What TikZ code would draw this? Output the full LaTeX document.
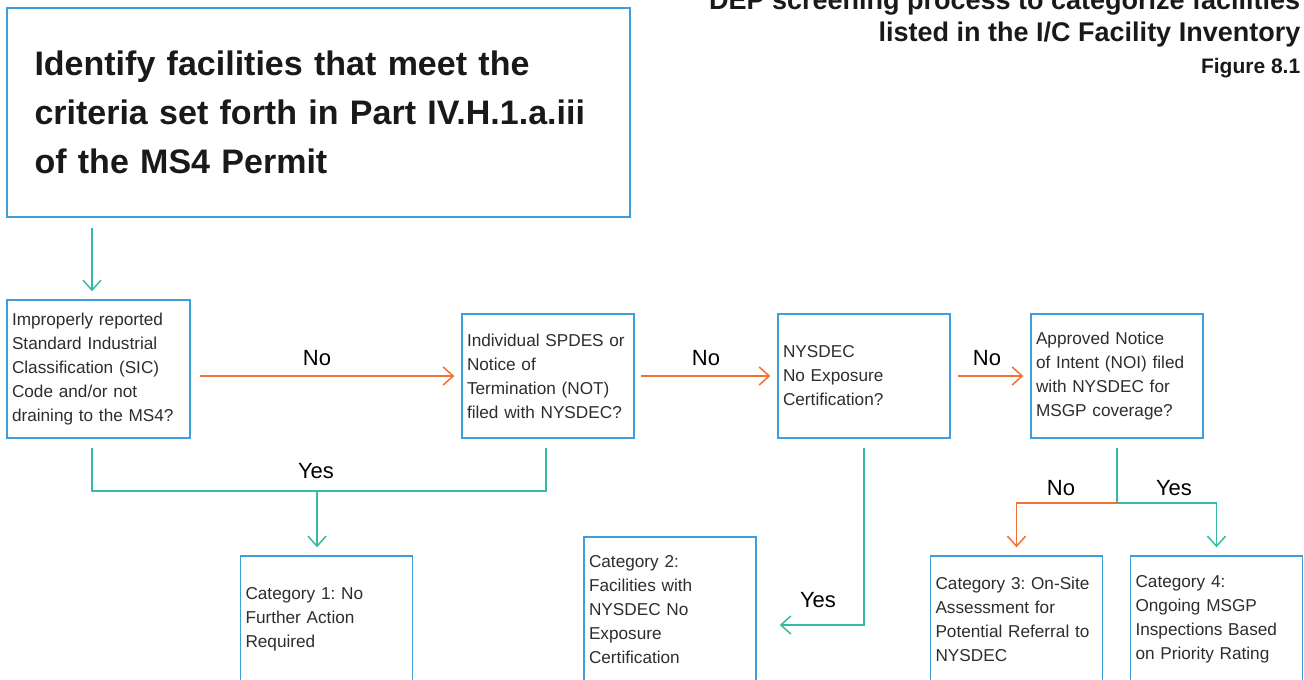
\documentclass[tikz,border=0pt]{standalone}
\usepackage{fontspec}
\setmainfont{Liberation Sans}
\usepackage{tikz}
\usepackage{xcolor}
\usetikzlibrary{positioning,arrows.meta}

\definecolor{boxblue}{RGB}{60,158,218}
\definecolor{goteal}{RGB}{52,186,166}
\definecolor{stoporange}{RGB}{243,112,51}
\definecolor{inkgray}{RGB}{45,45,45}

\frenchspacing

\begin{document}
\begin{tikzpicture}[
    ->,
    >={Straight Barb[length=5pt,width=9pt]},
    line width=0.75pt,
    x=0.5pt,
    y=-0.5pt
]

\tikzstyle{box}=[
    rectangle,
    draw=boxblue,
    line width=0.7pt,
    inner xsep=2.5pt,
    inner ysep=0pt,
    text width=81pt,
    align=left,
    text=inkgray,
    font=\frenchspacing\fontsize{8.6}{12}\selectfont
]
\tikzstyle{question}=[box, minimum width=86pt, minimum height=62pt]
\tikzstyle{category}=[box, minimum width=85.5pt, minimum height=63.5pt]
\tikzstyle{answer}=[anchor=base, inner sep=0pt, font=\fontsize{11}{14}\selectfont]
\tikzstyle{heading}=[anchor=base east, inner sep=0pt, text=black!90, font=\bfseries\fontsize{13.5}{16}\selectfont]
\tikzstyle{yesline}=[goteal]
\tikzstyle{noline}=[stoporange]

\useasboundingbox (0,0) rectangle (1304,679);

\node[box, text width=284pt, inner xsep=13.75pt, minimum width=311.5pt, minimum height=104.5pt, text=black!90, font=\frenchspacing\bfseries\fontsize{17}{24.5}\selectfont] (permit) at (318.5,112.5) {Identify facilities that meet the\\criteria set forth in Part IV.H.1.a.iii\\of the MS4 Permit};

\node[heading] (heading1) at (1301,10) {DEP screening process to categorize facilities};
\node[heading] (heading2) at (1301,42) {listed in the I/C Facility Inventory};
\node[heading, font=\bfseries\fontsize{10.5}{13}\selectfont] (figno) at (1301,74) {Figure 8.1};

\node[question, text width=86.5pt, minimum width=91.5pt, minimum height=69pt] (sic) at (98.5,369) {Improperly reported\\Standard Industrial\\Classification (SIC)\\Code and/or not\\draining to the MS4?};
\node[question] (spdes) at (548,376) {Individual SPDES or\\Notice of\\Termination (NOT)\\filed with NYSDEC?};
\node[question] (nec) at (864,376) {NYSDEC\\No Exposure\\Certification?};
\node[question] (noi) at (1117,376) {Approved Notice\\of Intent (NOI) filed\\with NYSDEC for\\MSGP coverage?};

\node[category] (cat1) at (326.5,619.5) {Category 1: No\\Further Action\\Required};
\node[category, minimum height=73pt] (cat2) at (670,610) {Category 2:\\Facilities with\\NYSDEC No\\Exposure\\Certification};
\node[category] (cat3) at (1016.5,619.5) {Category 3: On-Site\\Assessment for\\Potential Referral to\\NYSDEC};
\node[category] (cat4) at (1216.5,619.5) {Category 4:\\Ongoing MSGP\\Inspections Based\\on Priority Rating};

\node[answer] (no1) at (317,365) {No};
\node[answer] (no2) at (706,365) {No};
\node[answer] (no3) at (987,365) {No};
\node[answer] (yes1) at (316,478) {Yes};
\node[answer] (yes2) at (818,607) {Yes};
\node[answer] (no4) at (1061,495) {No};
\node[answer] (yes3) at (1174,495) {Yes};

\coordinate (yesjoin) at (317,491);
\coordinate (noifork) at (1117,503);

\draw[yesline, shorten <=5pt, shorten >=4pt] (permit.south -| 92,0) -- (sic.north -| 92,0);
\draw[noline, shorten <=4.5pt, shorten >=3.5pt] (sic.east |- 0,376) -- (spdes.west);
\draw[noline, shorten <=3pt, shorten >=3.5pt] (spdes) -- (nec);
\draw[noline, shorten <=3.5pt, shorten >=3.5pt] (nec) -- (noi);

\draw[yesline, -, shorten <=4.5pt, shorten >=4.5pt] (sic.south -| 92,0) |- (yesjoin) -| (spdes.south -| 546,0);
\draw[yesline, shorten >=4pt] (yesjoin) -- (cat1.north -| yesjoin);
\draw[yesline, shorten <=4.5pt, shorten >=11.5pt] (nec.south) |- (cat2.east |- 0,625);

\draw[yesline, -, shorten <=4.5pt] (noi.south) -- (noifork);
\draw[noline, shorten >=4pt] (noifork) -| (cat3.north);
\draw[yesline, shorten >=4pt] (noifork) -| (cat4.north);

\end{tikzpicture}
\end{document}
